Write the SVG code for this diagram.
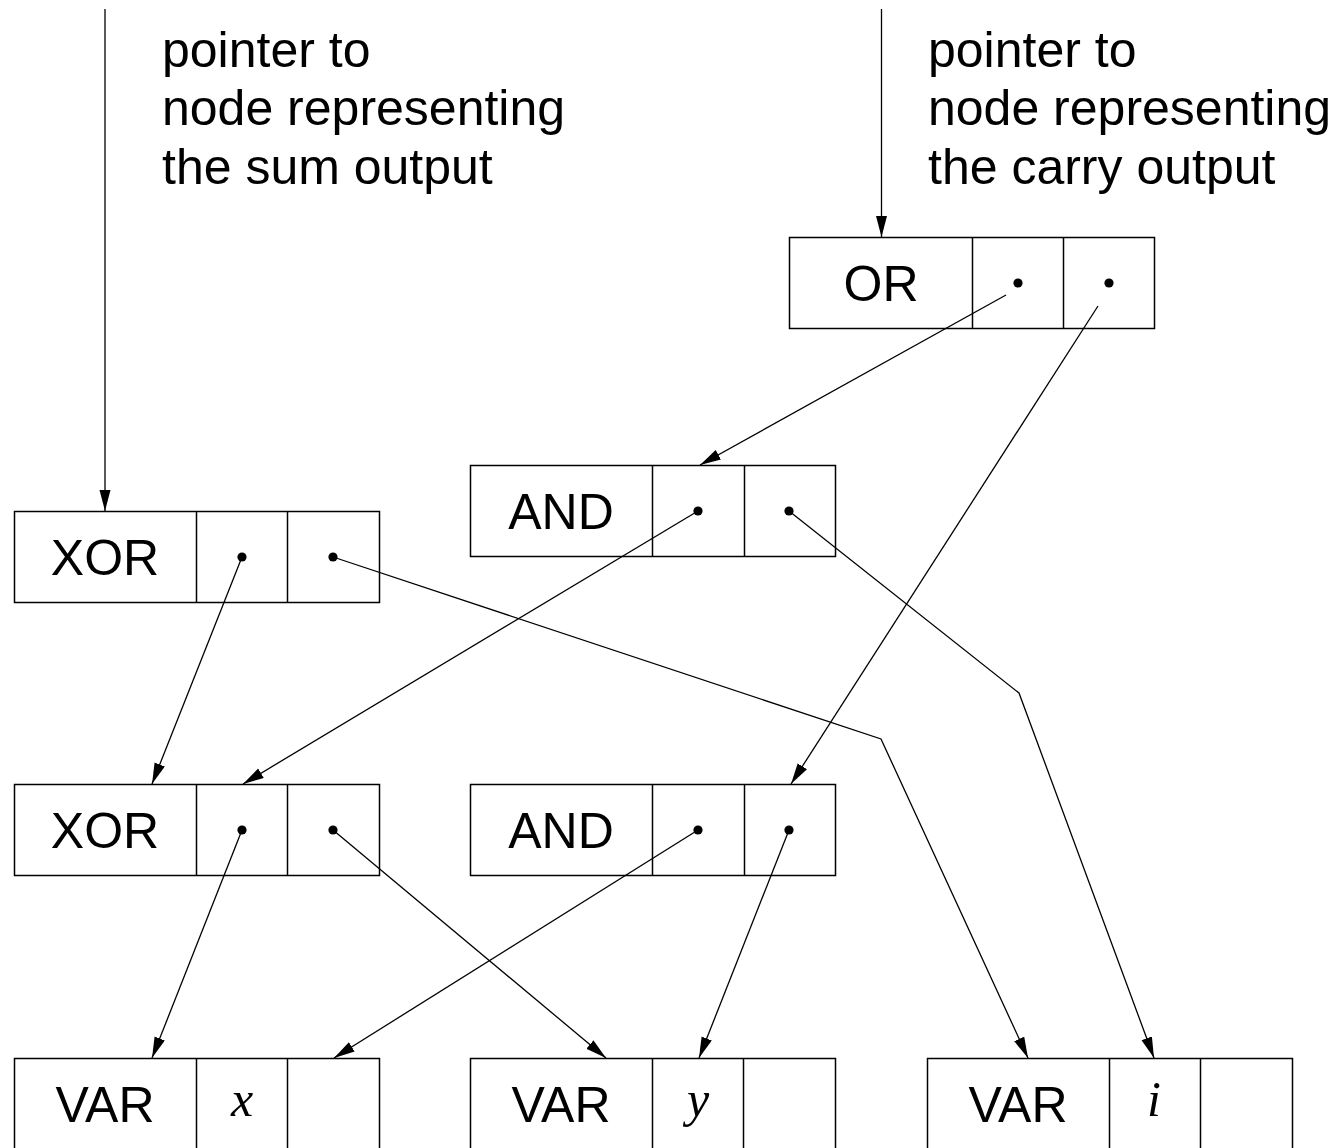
<svg xmlns="http://www.w3.org/2000/svg" width="1335" height="1148" viewBox="0 0 1335 1148">
<style>
.box{fill:#fff;stroke:#000;stroke-width:1.5}
.div{stroke:#000;stroke-width:1.5}
.lbl{font-family:"Liberation Sans",Arial,sans-serif;font-size:50px;fill:#000;text-anchor:middle}
.var{font-family:"Liberation Serif","Times New Roman",serif;font-style:italic;font-size:50px;fill:#000;text-anchor:middle}
.note{font-family:"Liberation Sans",Arial,sans-serif;font-size:50px;fill:#000}
.dot{fill:#000}
.c{fill:none;stroke:#000;stroke-width:1.3}
</style>
<defs>
<marker id="ah" markerUnits="userSpaceOnUse" markerWidth="24" markerHeight="12" refX="21" refY="5.5" orient="auto">
<path d="M0,0 L21,5.5 L0,11 z" fill="#000"/>
</marker>
</defs>
<rect width="1335" height="1148" fill="#fff"/>

<g id="note-sum">
<text class="note" x="162" y="67">pointer to</text>
<text class="note" x="162" y="125">node representing</text>
<text class="note" x="162" y="184">the sum output</text>
</g>
<g id="note-carry">
<text class="note" x="928" y="67">pointer to</text>
<text class="note" x="928" y="125">node representing</text>
<text class="note" x="928" y="184">the carry output</text>
</g>

<g id="or">
<rect class="box" x="789.5" y="237.5" width="365" height="91"/>
<line class="div" x1="972.5" y1="237.5" x2="972.5" y2="328.5"/>
<line class="div" x1="1063.5" y1="237.5" x2="1063.5" y2="328.5"/>
<text class="lbl" x="881" y="301">OR</text>
<circle class="dot" cx="1018" cy="283" r="4.6"/>
<circle class="dot" cx="1109" cy="283" r="4.6"/>
</g>

<g id="and-top">
<rect class="box" x="470.5" y="465.5" width="365" height="91"/>
<line class="div" x1="652.5" y1="465.5" x2="652.5" y2="556.5"/>
<line class="div" x1="744.5" y1="465.5" x2="744.5" y2="556.5"/>
<text class="lbl" x="561" y="529">AND</text>
<circle class="dot" cx="698" cy="511" r="4.6"/>
<circle class="dot" cx="789" cy="511" r="4.6"/>
</g>

<g id="xor-top">
<rect class="box" x="14.5" y="511.5" width="365" height="91"/>
<line class="div" x1="196.5" y1="511.5" x2="196.5" y2="602.5"/>
<line class="div" x1="287.5" y1="511.5" x2="287.5" y2="602.5"/>
<text class="lbl" x="105" y="575">XOR</text>
<circle class="dot" cx="242" cy="557" r="4.6"/>
<circle class="dot" cx="333" cy="557" r="4.6"/>
</g>

<g id="xor-bottom">
<rect class="box" x="14.5" y="784.5" width="365" height="91"/>
<line class="div" x1="196.5" y1="784.5" x2="196.5" y2="875.5"/>
<line class="div" x1="287.5" y1="784.5" x2="287.5" y2="875.5"/>
<text class="lbl" x="105" y="848">XOR</text>
<circle class="dot" cx="242" cy="830" r="4.6"/>
<circle class="dot" cx="333" cy="830" r="4.6"/>
</g>

<g id="and-bottom">
<rect class="box" x="470.5" y="784.5" width="365" height="91"/>
<line class="div" x1="652.5" y1="784.5" x2="652.5" y2="875.5"/>
<line class="div" x1="744.5" y1="784.5" x2="744.5" y2="875.5"/>
<text class="lbl" x="561" y="848">AND</text>
<circle class="dot" cx="698" cy="830" r="4.6"/>
<circle class="dot" cx="789" cy="830" r="4.6"/>
</g>

<g id="var-x">
<rect class="box" x="14.5" y="1058.5" width="365" height="91"/>
<line class="div" x1="196.5" y1="1058.5" x2="196.5" y2="1149"/>
<line class="div" x1="287.5" y1="1058.5" x2="287.5" y2="1149"/>
<text class="lbl" x="105" y="1122">VAR</text>
<text class="var" x="242" y="1116">x</text>
</g>

<g id="var-y">
<rect class="box" x="470.5" y="1058.5" width="365" height="91"/>
<line class="div" x1="652.5" y1="1058.5" x2="652.5" y2="1149"/>
<line class="div" x1="743.5" y1="1058.5" x2="743.5" y2="1149"/>
<text class="lbl" x="561" y="1122">VAR</text>
<text class="var" x="698" y="1116">y</text>
</g>

<g id="var-i">
<rect class="box" x="927.5" y="1058.5" width="365" height="91"/>
<line class="div" x1="1109.5" y1="1058.5" x2="1109.5" y2="1149"/>
<line class="div" x1="1200.5" y1="1058.5" x2="1200.5" y2="1149"/>
<text class="lbl" x="1018" y="1122">VAR</text>
<text class="var" x="1154" y="1116">i</text>
</g>

<g id="connectors">
<line class="c" x1="105" y1="9" x2="105" y2="511" marker-end="url(#ah)"/>
<line class="c" x1="881.5" y1="9" x2="881.5" y2="237" marker-end="url(#ah)"/>
<line class="c" x1="1006" y1="295" x2="700" y2="465" marker-end="url(#ah)"/>
<line class="c" x1="1098" y1="306" x2="791" y2="784" marker-end="url(#ah)"/>
<line class="c" x1="698" y1="511" x2="243" y2="784" marker-end="url(#ah)"/>
<polyline class="c" points="789,511 1019,693 1154,1058" marker-end="url(#ah)"/>
<line class="c" x1="242" y1="557" x2="152" y2="784" marker-end="url(#ah)"/>
<polyline class="c" points="333,557 881,739 1028,1058" marker-end="url(#ah)"/>
<line class="c" x1="242" y1="830" x2="152" y2="1058" marker-end="url(#ah)"/>
<line class="c" x1="333" y1="830" x2="606" y2="1058" marker-end="url(#ah)"/>
<line class="c" x1="698" y1="830" x2="334" y2="1058" marker-end="url(#ah)"/>
<line class="c" x1="789" y1="830" x2="699" y2="1058" marker-end="url(#ah)"/>
</g>
</svg>
